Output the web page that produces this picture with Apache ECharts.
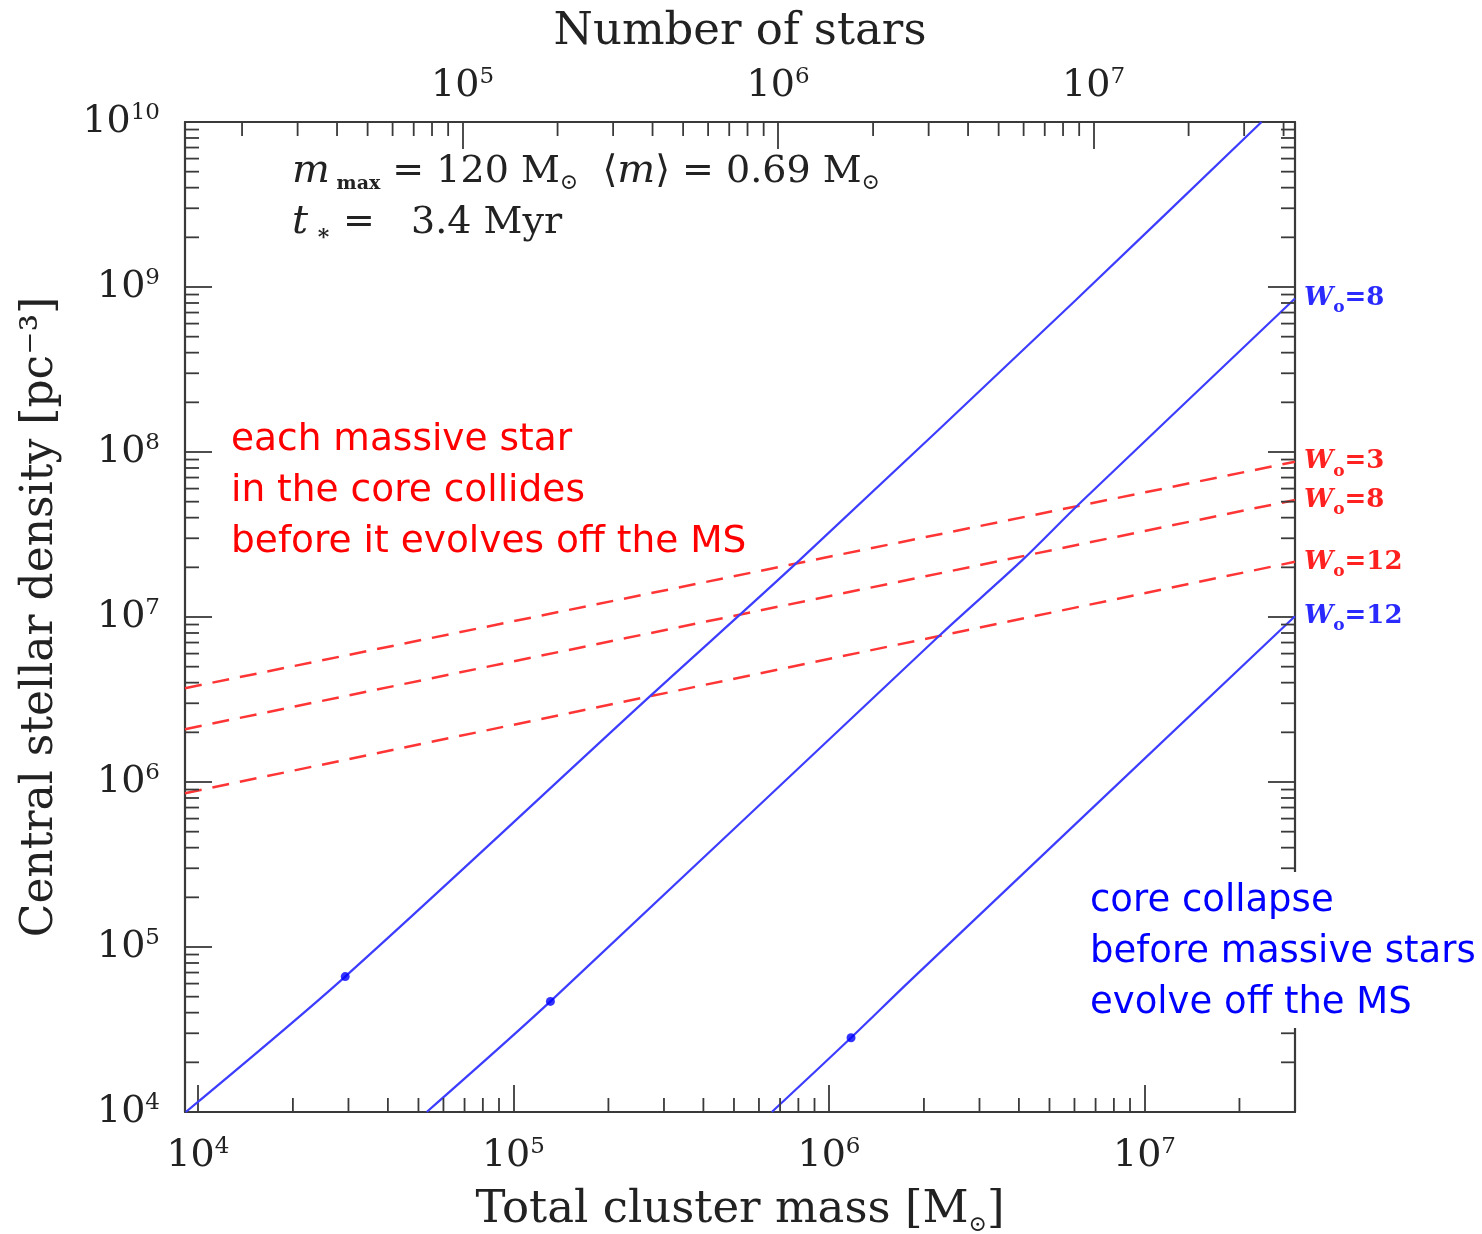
<!DOCTYPE html>
<html><head><meta charset="utf-8">
<script src="https://cdn.jsdelivr.net/npm/echarts@6/dist/echarts.min.js"></script>
<style>html,body{margin:0;padding:0;background:#fff}#c{width:1482px;height:1234px}</style>
</head><body><div id="c"></div>
<script>
// ---- axis ranges ----
const massMin = 9.1e3, massMax = 3.0e7;      // total cluster mass [Msun]
const rhoMin = 1e4, rhoMax = 1e10;           // central stellar density [pc^-3]
const meanStarMass = 0.69;                   // <m> → number of stars = M / <m>

// ---- blue solid lines: core collapse time = t* (W0 = 3, 8, 12) ----
const ccMassW3  = [9.15e3, 2.93e4, 2.70e5, 8.07e5, 6.05e6, 2.35e7];
const ccRhoW3   = [1.0e4, 6.62e4, 3.29e6, 2.21e7, 8.32e8, 1.0e10];
const ccMassW8  = [5.31e4, 1.31e5, 2.25e6, 4.10e6, 6.31e6, 3.0e7];
const ccRhoW8   = [1.0e4, 4.68e4, 7.78e6, 2.21e7, 4.99e7, 8.51e8];
const ccMassW12 = [6.59e5, 1.175e6, 1.82e6, 3.0e7];
const ccRhoW12  = [1.0e4, 2.82e4, 6.32e4, 1.01e7];

// ---- red dashed lines: collision time of massive stars = t* ----
const collMass   = [9.1e3, 3.0e7];
const collRhoW3  = [3.70e6, 8.73e7];
const collRhoW8  = [2.09e6, 5.12e7];
const collRhoW12 = [8.55e5, 2.16e7];

// ---- dots on blue lines ----
const dotMass = [2.93e4, 1.31e5, 1.175e6];
const dotRho  = [6.62e4, 4.68e4, 2.82e4];

// ---- labels ----
const blueLabelW = ['', '8', '12'];
const redLabelW  = ['3', '8', '12'];

const BLUE = '#3d3dff', RED = '#ff3535', AX = '#3a3a3a', TXT = '#222';
const SERIF = '"DejaVu Serif", serif';

function minorTicks(lo, hi) {
  const out = [];
  for (let e = Math.floor(Math.log10(lo)); e <= Math.ceil(Math.log10(hi)); e++) {
    for (let k = 2; k <= 9; k++) { const v = k * Math.pow(10, e); if (v > lo && v < hi) out.push(v); }
  }
  return out;
}
const powLabel = v => '{b|10}{s|' + Math.round(Math.log10(v)) + '}';
const labelRich = {
  b: { fontFamily: SERIF, fontSize: 38, lineHeight: 40, color: TXT },
  s: { fontFamily: SERIF, fontSize: 23, lineHeight: 27, verticalAlign: 'top', color: TXT }
};
const tickLine = { lineStyle: { color: AX, width: 1.8 } };

function tickSeries(xIdx, data, dir) {
  return {
    type: 'custom', xAxisIndex: xIdx, yAxisIndex: 0, silent: true, z: 5, animation: false,
    data: data,
    renderItem: function (params, api) {
      const p = api.coord([api.value(0), api.value(1)]);
      const L = 14; let x2 = p[0], y2 = p[1];
      if (dir === 'up') y2 -= L; else if (dir === 'down') y2 += L;
      else if (dir === 'right') x2 += L; else x2 -= L;
      return { type: 'line', shape: { x1: p[0], y1: p[1], x2: x2, y2: y2 }, style: { stroke: AX, lineWidth: 1.8 } };
    }
  };
}
function wLabel(w, color) {
  return {
    show: !!w, distance: 9,
    formatter: '{w|W}{o|o}{e|=' + w + '}',
    rich: {
      w: { fontFamily: SERIF, fontWeight: 'bold', fontStyle: 'italic', fontSize: 26, lineHeight: 36, color: color },
      o: { fontFamily: SERIF, fontWeight: 'bold', fontSize: 17, lineHeight: 13, verticalAlign: 'bottom', color: color },
      e: { fontFamily: SERIF, fontWeight: 'bold', fontSize: 26, lineHeight: 36, color: color }
    }
  };
}
function blueLine(mass, rho, w) {
  return { type: 'line', data: mass.map((m, i) => [m, rho[i]]), symbol: 'none', z: 3, smooth: 0.3,
    lineStyle: { color: BLUE, width: 2.2 }, itemStyle: { color: BLUE }, endLabel: wLabel(w, '#2a2aff') };
}
function redLine(mass, rho, w) {
  return { type: 'line', data: mass.map((m, i) => [m, rho[i]]), symbol: 'none', z: 3,
    lineStyle: { color: RED, width: 2.5, type: [17, 11] }, itemStyle: { color: RED }, endLabel: wLabel(w, '#ff2020') };
}

const chart = echarts.init(document.getElementById('c'), null, { renderer: 'canvas' });
chart.setOption({
  animation: false,
  backgroundColor: '#fff',
  grid: { left: 185, right: 187, top: 122, bottom: 122, containLabel: false, outerBoundsMode: 'none' },
  xAxis: [
    { type: 'log', logBase: 10, min: massMin, max: massMax, position: 'bottom',
      name: '{n|Total cluster mass [M}{s|⊙}{n|]}', nameLocation: 'middle', nameGap: 72,
      nameTextStyle: { rich: { n: { fontFamily: SERIF, fontSize: 45, lineHeight: 52, color: TXT },
                               s: { fontFamily: SERIF, fontSize: 22, lineHeight: 16, verticalAlign: 'bottom', color: TXT } } },
      axisLine: { show: true, lineStyle: { color: AX, width: 2.2 } },
      axisTick: Object.assign({ inside: true, length: 27 }, tickLine),
      axisLabel: { formatter: powLabel, rich: labelRich, margin: 24, showMinLabel: false, showMaxLabel: false },
      splitLine: { show: false }, minorTick: { show: false } },
    { type: 'log', logBase: 10, min: massMin / meanStarMass, max: massMax / meanStarMass, position: 'top',
      name: 'Number of stars', nameLocation: 'middle', nameGap: 64,
      nameTextStyle: { fontFamily: SERIF, fontSize: 45, lineHeight: 52, color: TXT },
      axisLine: { show: true, lineStyle: { color: AX, width: 2.2 } },
      axisTick: Object.assign({ inside: true, length: 27 }, tickLine),
      axisLabel: { formatter: powLabel, rich: labelRich, margin: 16, showMinLabel: false, showMaxLabel: false },
      splitLine: { show: false } }
  ],
  yAxis: [
    { type: 'log', logBase: 10, min: rhoMin, max: rhoMax, position: 'left',
      name: 'Central stellar density [pc⁻³]', nameLocation: 'middle', nameGap: 118, nameRotate: 90,
      nameTextStyle: { fontFamily: SERIF, fontSize: 44, lineHeight: 52, color: TXT },
      axisLine: { show: true, lineStyle: { color: AX, width: 2.2 } },
      axisTick: Object.assign({ inside: true, length: 27 }, tickLine),
      axisLabel: { formatter: powLabel, rich: labelRich, margin: 25 },
      splitLine: { show: false } },
    { type: 'log', logBase: 10, min: rhoMin, max: rhoMax, position: 'right',
      axisLine: { show: true, lineStyle: { color: AX, width: 2.2 } },
      axisTick: Object.assign({ inside: true, length: 27 }, tickLine),
      axisLabel: { show: false }, splitLine: { show: false } }
  ],
  series: [
    redLine(collMass, collRhoW3, redLabelW[0]),
    redLine(collMass, collRhoW8, redLabelW[1]),
    redLine(collMass, collRhoW12, redLabelW[2]),
    blueLine(ccMassW3, ccRhoW3, blueLabelW[0]),
    blueLine(ccMassW8, ccRhoW8, blueLabelW[1]),
    blueLine(ccMassW12, ccRhoW12, blueLabelW[2]),
    { type: 'scatter', data: dotMass.map((m, i) => [m, dotRho[i]]), symbol: 'circle', symbolSize: 9,
      itemStyle: { color: '#0000ff' }, z: 4 },
    tickSeries(0, minorTicks(massMin, massMax).map(v => [v, rhoMin]), 'up'),
    tickSeries(1, minorTicks(massMin / meanStarMass, massMax / meanStarMass).map(v => [v, rhoMax]), 'down'),
    tickSeries(0, minorTicks(rhoMin, rhoMax).map(v => [massMin, v]), 'right'),
    tickSeries(0, minorTicks(rhoMin, rhoMax).map(v => [massMax, v]), 'left')
  ],
  graphic: [
    { type: 'text', left: 292, top: 152, z: 50,
      style: { text: '{mi|m}{sub| max}{n| = 120 M}{sun|⊙}{n|  ⟨}{mi|m}{n|⟩ = 0.69 M}{sun|⊙}',
        rich: { n: { fontFamily: SERIF, fontSize: 38, lineHeight: 44, fill: TXT },
                mi: { fontFamily: SERIF, fontStyle: 'italic', fontSize: 40, lineHeight: 44, fill: TXT },
                sub: { fontFamily: SERIF, fontWeight: 'bold', fontSize: 19, lineHeight: 16, verticalAlign: 'bottom', fill: TXT },
                sun: { fontFamily: SERIF, fontSize: 22, lineHeight: 16, verticalAlign: 'bottom', fill: TXT } } } },
    { type: 'text', left: 292, top: 203, z: 50,
      style: { text: '{mi|t}{sub| ∗}{n| =   3.4 Myr}',
        rich: { n: { fontFamily: SERIF, fontSize: 38, lineHeight: 44, fill: TXT },
                mi: { fontFamily: SERIF, fontStyle: 'italic', fontSize: 40, lineHeight: 44, fill: TXT },
                sub: { fontFamily: SERIF, fontWeight: 'bold', fontSize: 22, lineHeight: 14, verticalAlign: 'bottom', fill: TXT } } } },
    { type: 'text', left: 231, top: 415, z: 50,
      style: { text: 'each massive star\nin the core collides\nbefore it evolves off the MS',
        font: '37.5px "DejaVu Sans"', lineHeight: 51, fill: '#ff0000' } },
    { type: 'rect', shape: { x: 1084, y: 872, width: 398, height: 156 }, z: 49, style: { fill: '#fff' } },
    { type: 'text', left: 1090, top: 876, z: 50,
      style: { text: 'core collapse\nbefore massive stars\nevolve off the MS',
        font: '37px "DejaVu Sans"', lineHeight: 51, fill: '#0000ff' } }
  ]
});
</script></body></html>
